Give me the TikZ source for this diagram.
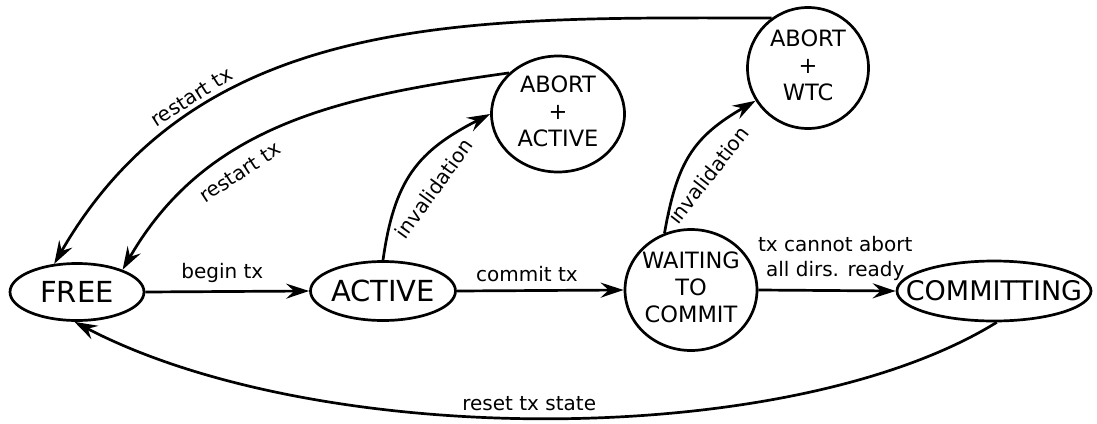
\documentclass[tikz,border=0pt]{standalone}
\usepackage{fontspec}
\setmainfont{DejaVu Sans}
\usetikzlibrary{shapes.geometric,arrows.meta}

\begin{document}
\begin{tikzpicture}[x=1pt,y=1pt,
  state/.style={ellipse, draw, line width=2.7pt, inner sep=0pt,
    font=\fontsize{29}{34}\selectfont},
  bigstate/.style={ellipse, draw, line width=2.7pt, inner sep=0pt,
    font=\fontsize{22.5}{27}\selectfont},
  trans/.style={line width=2.7pt, -{Stealth[length=23pt,width=15pt,inset=8pt]}},
  lbl/.style={font=\fontsize{20}{25}\selectfont, inner sep=0pt},
]
\useasboundingbox[fill=white] (0,-423) rectangle (1097,0);

% states
\node[state, minimum width=134pt, minimum height=57pt] (free) at (77,-292) {\makebox[0pt]{FREE}};
\node[state, minimum width=145pt, minimum height=59pt] (active) at (383,-291) {\makebox[0pt]{ACTIVE}};
\node[bigstate, minimum width=132pt, minimum height=121pt] (waiting) at (691,-290)
  {\makebox[0pt]{\begin{tabular}{@{}c@{}}WAITING\\TO\\COMMIT\end{tabular}}};
\node[state, minimum width=194pt, minimum height=60pt, font=\fontsize{27}{32}\selectfont]
  (commit) at (994,-291) {\makebox[0pt]{COMMITTING}};
\node[bigstate, minimum width=133pt, minimum height=116pt] (abortA) at (558,-114)
  {\makebox[0pt]{\begin{tabular}{@{}c@{}}ABORT\\+\\ACTIVE\end{tabular}}};
\node[bigstate, minimum width=121pt, minimum height=121pt] (abortW) at (808,-68)
  {\makebox[0pt]{\begin{tabular}{@{}c@{}}ABORT\\+\\WTC\end{tabular}}};

% straight transitions
\draw[trans] (free.east) -- node[lbl, pos=0.47, anchor=south, yshift=8pt]{begin tx} (active.west);
\draw[trans] (active.east) -- node[lbl, pos=0.42, anchor=south, yshift=7pt]{commit tx} (waiting.west);
\draw[trans] (waiting.east) -- node[lbl, pos=0.56, anchor=south, yshift=9pt, align=center]{tx cannot abort\\all dirs. ready} (commit.west);

% invalidations (labels set off to the right of each arc)
\draw[trans] (active.north) to[out=82, in=207, looseness=1.15]
  node[lbl, pos=0.45, xshift=25pt, yshift=-11pt, rotate=54]{invalidation} (abortA.west);
\draw[trans] (waiting.115) to[out=80, in=210, looseness=1.15]
  node[lbl, pos=0.45, xshift=21pt, yshift=-15pt, rotate=52]{invalidation} (abortW.212);

% restarts
\draw[trans] (abortA.140) to[out=188, in=60]
  node[lbl, sloped, below=12pt, pos=0.65]{restart tx} (free.26);
\draw[trans] (abortW.126) to[out=180, in=60]
  node[lbl, sloped, above=6pt, pos=0.73]{restart tx} (free.129);

% reset
\draw[trans] (commit.-85) .. controls (790,-450) and (320,-450) ..
  node[lbl, pos=0.52, anchor=south, yshift=6pt]{reset tx state} (free.265);
\end{tikzpicture}
\end{document}
